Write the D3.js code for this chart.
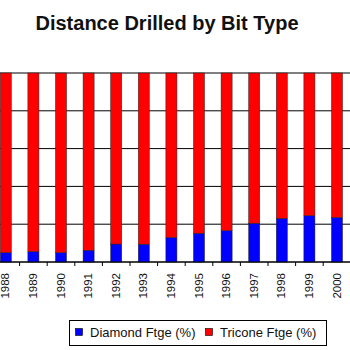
<!DOCTYPE html>
<html>
<head>
<meta charset="utf-8">
<script src="https://cdn.jsdelivr.net/npm/d3@7/dist/d3.min.js"></script>
<style>
  html, body { margin: 0; padding: 0; background: #fff; }
  svg { display: block; font-family: "Liberation Sans", Arial, sans-serif; }
</style>
</head>
<body>
<svg id="chart" width="350" height="350"></svg>
<script>
// Share of footage drilled per year, by bit type (percent)
const years = ["1988", "1989", "1990", "1991", "1992", "1993", "1994",
               "1995", "1996", "1997", "1998", "1999", "2000"];
const diamondPct = [4.9, 5.5, 4.9, 6.2, 9.5, 9.4, 13.0, 15.2, 16.6, 20.5, 23.1, 24.5, 23.6];
const triconePct = diamondPct.map(d => 100 - d);
const yTicks = [0, 20, 40, 60, 80, 100];
const seriesNames = ["Diamond Ftge (%)", "Tricone Ftge (%)"];
const seriesColors = ["#0000ff", "#ff0000"];

const svg = d3.select("#chart");

const x = d3.scaleBand()
  .domain(years)
  .range([-8, 350.8])
  .paddingInner(0.6)
  .paddingOuter(0.3);

const y = d3.scaleLinear()
  .domain([0, 100])
  .range([262, 73]);

// Title
svg.append("text")
  .attr("x", 167)
  .attr("y", 30)
  .attr("text-anchor", "middle")
  .attr("font-size", 20)
  .attr("font-weight", "bold")
  .attr("fill", "#111")
  .text("Distance Drilled by Bit Type");

// Horizontal gridlines
svg.append("g")
  .selectAll("line")
  .data(yTicks)
  .join("line")
  .attr("x1", x.range()[0])
  .attr("x2", 350)
  .attr("y1", d => y(d))
  .attr("y2", d => y(d))
  .attr("stroke", "#000")
  .attr("stroke-width", 1);

// Stacked bars
const rows = years.map((yr, i) => ({ year: yr, diamond: diamondPct[i], tricone: triconePct[i] }));
const stack = d3.stack().keys(["diamond", "tricone"])(rows);

svg.append("g")
  .selectAll("g")
  .data(stack)
  .join("g")
  .attr("fill", (d, i) => seriesColors[i])
  .selectAll("rect")
  .data(d => d)
  .join("rect")
  .attr("x", d => x(d.data.year))
  .attr("width", x.bandwidth())
  .attr("y", d => y(d[1]))
  .attr("height", d => y(d[0]) - y(d[1]))
  .attr("stroke", "#222")
  .attr("stroke-width", 0.5);

// Category axis with ticks midway between the bars
const gap = (x.step() - x.bandwidth()) / 2;
const xAxisG = svg.append("g").attr("transform", `translate(0,${y(0)})`);
xAxisG.append("line")
  .attr("x1", x.range()[0]).attr("x2", 350)
  .attr("y1", 0).attr("y2", 0)
  .attr("stroke", "#000");
xAxisG.selectAll("line.tick")
  .data(years.slice(1))
  .join("line")
  .attr("class", "tick")
  .attr("x1", d => x(d) - gap)
  .attr("x2", d => x(d) - gap)
  .attr("y1", 0).attr("y2", 4)
  .attr("stroke", "#000");

xAxisG.selectAll("text")
  .data(years)
  .join("text")
  .attr("transform", d => `translate(${x(d) + x.bandwidth() / 2 + 3.6},11) rotate(-90)`)
  .attr("text-anchor", "end")
  .attr("font-size", 11.5)
  .attr("fill", "#111")
  .text(d => d);

// Legend
const legend = svg.append("g").attr("transform", "translate(69,320)");
legend.append("rect")
  .attr("x", 0.5).attr("y", 0.5)
  .attr("width", 257).attr("height", 25)
  .attr("fill", "#fff")
  .attr("stroke", "#000");
const items = [{ x: 6.5, tx: 21 }, { x: 136.5, tx: 151 }];
seriesNames.forEach((name, i) => {
  legend.append("rect")
    .attr("x", items[i].x).attr("y", 8.5)
    .attr("width", 7).attr("height", 7)
    .attr("fill", seriesColors[i])
    .attr("stroke", "#000").attr("stroke-width", 0.6);
  legend.append("text")
    .attr("x", items[i].tx).attr("y", 17)
    .attr("font-size", 13)
    .attr("fill", "#111")
    .text(name);
});
</script>
</body>
</html>
